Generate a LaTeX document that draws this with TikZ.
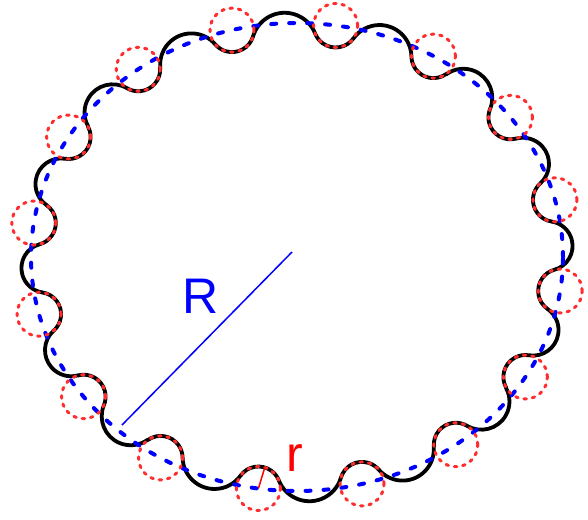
\documentclass[tikz,border=0pt]{standalone}
\usepackage{fontspec}
\setmainfont{Liberation Sans}
\definecolor{cblue}{RGB}{0,0,255}
\definecolor{cred}{RGB}{255,45,45}
\definecolor{tred}{RGB}{255,0,0}
% crest-arc centre between ellipse points of parameters #1 and #2
\newcommand\wvP[2]{%
  \pgfmathsetmacro\wAx{297+266*cos(#1)}%
  \pgfmathsetmacro\wAy{-257+234*sin(#1)}%
  \pgfmathsetmacro\wBx{297+266*cos(#2)}%
  \pgfmathsetmacro\wBy{-257+234*sin(#2)}%
  \pgfmathsetmacro\wMx{(\wAx+\wBx)/2}%
  \pgfmathsetmacro\wMy{(\wAy+\wBy)/2}%
  \pgfmathsetmacro\wcc{veclen(\wBx-\wAx,\wBy-\wAy)/2}%
  \pgfmathsetmacro\wux{(\wBx-\wAx)/(2*\wcc)}%
  \pgfmathsetmacro\wuy{(\wBy-\wAy)/(2*\wcc)}%
  \pgfmathsetmacro\whh{(\wcc*\wcc-(\wrr+\wqq)*(\wrr+\wqq))/(2*(\wrr+\wqq))}%
  \pgfmathsetmacro\wPx{\wMx-\whh*\wuy}%
  \pgfmathsetmacro\wPy{\wMy+\whh*\wux}%
  \pgfmathsetmacro\wPrho{\whh+\wqq}}
\def\wrr{22}
\def\wqq{15}
\def\wtz{14.15}
\begin{document}
\begin{tikzpicture}[x=1pt,y=1pt,
  wave/.style={line width=3.8pt,line cap=round,black},
  bluedash/.style={cblue,line width=4pt,line cap=round,dash pattern=on 5pt off 13pt},
  reddash/.style={cred,line width=3pt,line cap=round,dash pattern=on 2.6pt off 5.9pt},
  rline/.style={cblue,line width=1.5pt},
  smallr/.style={tred,line width=1.5pt},
  lab/.style={inner sep=0pt,font=\fontsize{50}{50}\selectfont}]
\useasboundingbox (0,0) rectangle (588,-519);
% wavy boundary
\foreach \k in {0,...,15}{
  \pgfmathsetmacro\wtk{\wtz+22.5*\k}
  \wvP{\wtk-22.5}{\wtk}
  \let\wQx\wPx \let\wQy\wPy
  \wvP{\wtk}{\wtk+22.5}
  \pgfmathsetmacro\wal{atan2(\wQy-\wAy,\wQx-\wAx)}
  \pgfmathsetmacro\wbe{atan2(\wPy-\wAy,\wPx-\wAx)}
  \pgfmathsetmacro\wbe{ifthenelse(\wbe>\wal,\wbe-360,\wbe)}
  \pgfmathsetmacro\wga{atan2(\wAy-\wPy,\wAx-\wPx)}
  \pgfmathsetmacro\wde{atan2(\wBy-\wPy,\wBx-\wPx)}
  \pgfmathsetmacro\wde{ifthenelse(\wde<\wga,\wde+360,\wde)}
  \coordinate (c\k) at (\wAx,\wAy);
  \draw[wave] ({\wAx+\wrr*cos(\wal)},{\wAy+\wrr*sin(\wal)})
    arc[start angle=\wal,end angle=\wbe,radius=\wrr]
    arc[start angle=\wga,end angle=\wde,radius=\wPrho];
}
% mean circle
\coordinate (ctr) at (297,-257);
\draw[bluedash] (ctr) ellipse[x radius=266,y radius=234];
% small circles
\foreach \k in {0,...,15}{
  \draw[reddash] (c\k) circle[radius=\wrr];
}
% radii
\coordinate (O) at (292,-252);
\coordinate (Rend) at (122,-425);
\draw[rline] (O) -- (Rend);
\draw[smallr] (c11) -- ++(73:22);
\node[lab,text=cblue] (Rlab) at (201,-296) {R};
\node[lab,text=tred] (rlab) at (295,-458) {r};
\end{tikzpicture}
\end{document}
